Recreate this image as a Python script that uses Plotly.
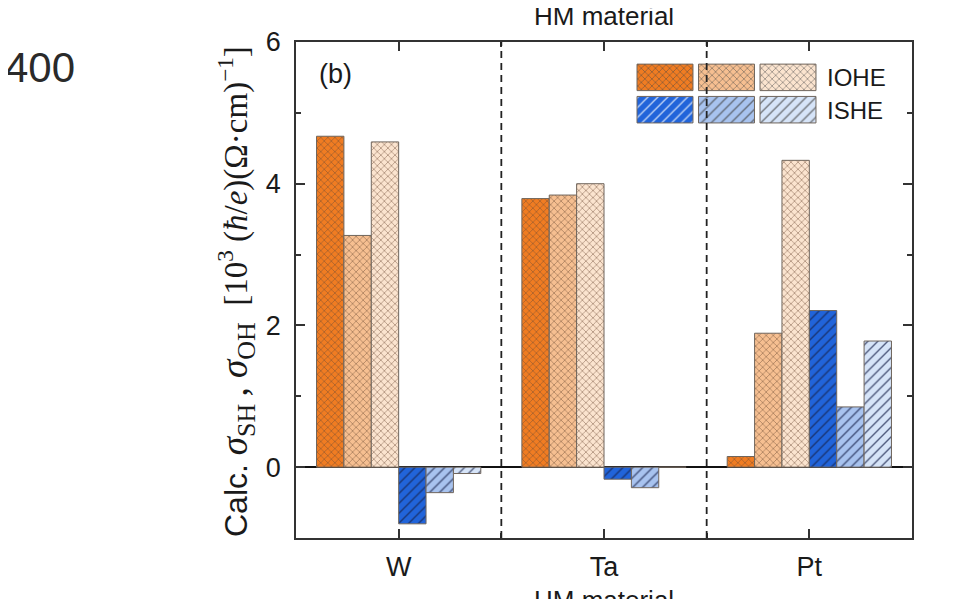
import plotly.graph_objects as go

# ---- data ----
categories = ["W", "Ta", "Pt"]
cat_pos = [0, 1, 2]
iohe_1 = [4.67, 3.79, 0.15]
iohe_2 = [3.27, 3.84, 1.89]
iohe_3 = [4.59, 4.00, 4.33]
ishe_1 = [-0.80, -0.17, 2.21]
ishe_2 = [-0.36, -0.29, 0.85]
ishe_3 = [-0.09, 0.00, 1.78]
y_ticks = [0, 2, 4, 6]
legend_labels = ["IOHE", "ISHE"]

orange = ["#F07C22", "#F6BF91", "#FBE4CF"]
blue = ["#2164DA", "#A8C3EF", "#D6E4F8"]
orange_hatch = "#6E4A34"
blue_hatch = "#16204A"
edge = "#6F655C"

FONT = "Liberation Sans, Arial, sans-serif"

# page body has an 8px offset; place plot so its box lands at screen (296,42)-(912,538)
OFF = 8
L, T, PW, PH = 296, 42, 616, 496
W_FIG, H_FIG = 976, 599


def px(xs):
    return (xs - L) / PW


def py(ys):
    return 1 - (ys - T) / PH


fig = go.Figure()

series = [
    (iohe_1, orange[0], "x", orange_hatch, "IOHE 1"),
    (iohe_2, orange[1], "x", orange_hatch, "IOHE 2"),
    (iohe_3, orange[2], "x", orange_hatch, "IOHE 3"),
    (ishe_1, blue[0], "/", blue_hatch, "ISHE 1"),
    (ishe_2, blue[1], "/", blue_hatch, "ISHE 2"),
    (ishe_3, blue[2], "/", blue_hatch, "ISHE 3"),
]


def pat(shp, fg):
    if shp == "x":
        return dict(shape="x", fgcolor=fg, fgopacity=0.75, size=5, solidity=0.22)
    return dict(shape="/", fgcolor=fg, fgopacity=0.7, size=7, solidity=0.2)


for vals, col, shp, fg, nm in series:
    fig.add_trace(go.Bar(
        x=cat_pos, y=vals, name=nm, showlegend=False,
        marker=dict(color=col, line=dict(color=edge, width=1), pattern=pat(shp, fg)),
    ))

# legend key swatches on an inset axis
key_x = [0.5, 1.5, 2.5]
fig.add_trace(go.Bar(
    x=key_x, y=[0.82] * 3, base=[1.09] * 3, width=0.91, offset=-0.455,
    xaxis="x2", yaxis="y2", showlegend=False, hoverinfo="skip",
    marker=dict(color=orange, line=dict(color=edge, width=1), pattern=pat("x", orange_hatch)),
))
fig.add_trace(go.Bar(
    x=key_x, y=[0.82] * 3, base=[0.09] * 3, width=0.91, offset=-0.455,
    xaxis="x2", yaxis="y2", showlegend=False, hoverinfo="skip",
    marker=dict(color=blue, line=dict(color=edge, width=1), pattern=pat("/", blue_hatch)),
))

axis_col = "#333333"
fig.update_layout(
    width=W_FIG, height=H_FIG,
    margin=dict(l=L - OFF, r=W_FIG - (L - OFF) - PW, t=T - OFF, b=H_FIG - (T - OFF) - PH),
    paper_bgcolor="white", plot_bgcolor="white",
    barmode="group", bargap=0.2, bargroupgap=0,
    font=dict(family=FONT, size=26, color="#1a1a1a"),
    xaxis=dict(
        range=[-0.5, 2.5], tickmode="array", tickvals=cat_pos, ticktext=categories,
        showline=True, linecolor=axis_col, linewidth=1.5, mirror="ticks",
        ticks="inside", ticklen=9, tickwidth=1.5, tickcolor=axis_col,
        minor=dict(tickmode="array", tickvals=[0.5, 1.5], ticks="inside", ticklen=5,
                   tickwidth=1.5, tickcolor=axis_col),
        showgrid=False, zeroline=False, ticklabelstandoff=4, automargin=False,
        tickfont=dict(size=27),
    ),
    yaxis=dict(
        range=[-1, 6], tickvals=y_ticks,
        showline=True, linecolor=axis_col, linewidth=1.5, mirror="ticks",
        ticks="inside", ticklen=9, tickwidth=1.5, tickcolor=axis_col,
        minor=dict(dtick=1, tick0=0, ticks="inside", ticklen=5, tickwidth=1.5, tickcolor=axis_col),
        showgrid=False, zeroline=True, zerolinecolor="#111111", zerolinewidth=1.5,
        tickfont=dict(size=27), ticklabelstandoff=8, automargin=False,
    ),
    xaxis2=dict(domain=[px(634.25), px(818.75)], range=[0, 3], visible=False, anchor="y2",
                fixedrange=True),
    yaxis2=dict(domain=[py(125.85), py(61.2)], range=[0, 2], visible=False, anchor="x2",
                fixedrange=True),
)

# dashed separators
for xv in [0.5, 1.5]:
    fig.add_shape(type="line", xref="x", yref="paper", x0=xv, x1=xv, y0=0, y1=1,
                  line=dict(color="#222222", width=1.8, dash="7px,5px"))

# legend labels
fig.add_annotation(xref="paper", yref="paper", x=px(825), y=py(77.5),
                   xanchor="left", yanchor="middle", text=legend_labels[0], showarrow=False,
                   font=dict(size=24))
fig.add_annotation(xref="paper", yref="paper", x=px(825), y=py(110),
                   xanchor="left", yanchor="middle", text=legend_labels[1], showarrow=False,
                   font=dict(size=24))

# panel label
fig.add_annotation(xref="paper", yref="paper", x=px(335), y=py(74),
                   xanchor="center", yanchor="middle", text="(b)", showarrow=False,
                   font=dict(size=27))

# axis titles
fig.add_annotation(xref="paper", yref="paper", x=0.5, y=py(16),
                   xanchor="center", yanchor="middle", text="HM material", showarrow=False,
                   font=dict(size=26))
fig.add_annotation(xref="paper", yref="paper", x=0.5, y=py(583),
                   xanchor="center", yanchor="top", text="HM material", showarrow=False,
                   font=dict(size=26))

ytitle = ('<span style="font-family:Liberation Sans;font-size:32px">Calc. </span>'
          '<span style="font-family:Liberation Serif;font-size:37px">'
          '<i>σ</i><sub>SH</sub>\u2009, <i>σ</i><sub>OH</sub></span>'
          '<span style="font-family:Liberation Serif;font-size:33px">\u00a0\u00a0[10<sup>3</sup>\u00a0'
          '(<i>ħ</i>/<i>e</i>)(Ω·cm)<sup>−1</sup>]</span>')
fig.add_annotation(xref="paper", yref="paper", x=px(236), y=py(292),
                   xanchor="center", yanchor="middle", textangle=-90, text=ytitle,
                   showarrow=False, font=dict(size=32, family=FONT))

# neighbouring panel remnant
fig.add_annotation(xref="paper", yref="paper", x=px(3), y=py(68),
                   xanchor="left", yanchor="middle", text="400", showarrow=False,
                   font=dict(size=42, color="#2a2a2a"))

fig.write_html("out.html")
